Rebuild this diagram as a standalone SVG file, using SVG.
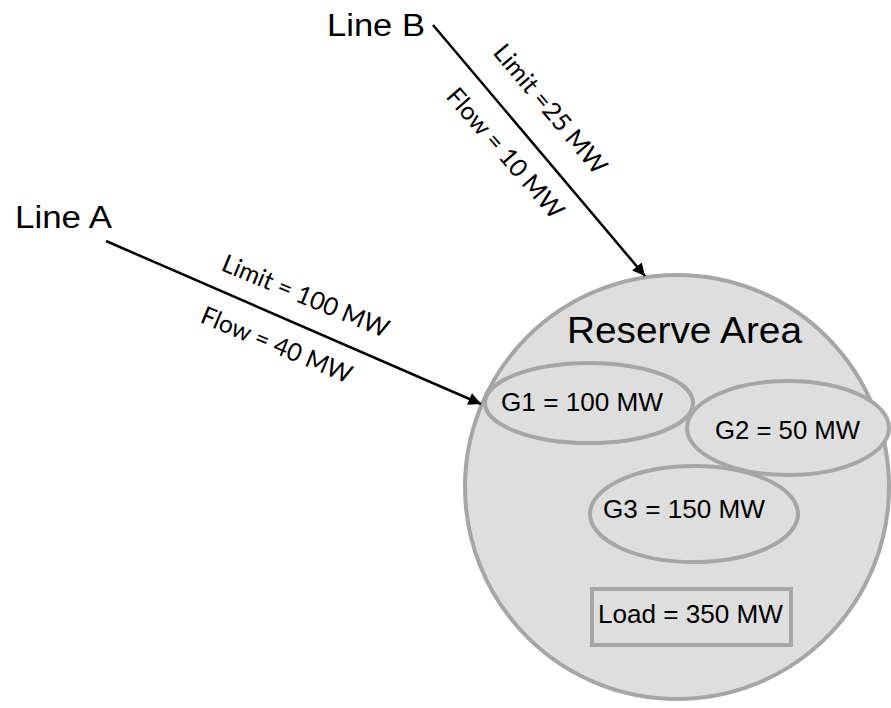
<svg xmlns="http://www.w3.org/2000/svg" width="891" height="708" viewBox="0 0 891 708">
<defs>
<style>
.area{fill:#dedede;stroke:#a6a6a6;stroke-width:4}
.gen{fill:#dedede;stroke:#a6a6a6;stroke-width:4}
.t{font-family:"Liberation Sans",Arial,sans-serif;fill:#000}
.lbl{font-family:Lato,"Open Sans",sans-serif;fill:#000;font-size:25px}
.conn{stroke:#000;stroke-width:2.5;fill:none}
</style>
<marker id="ah" viewBox="0 0 10 10" refX="10" refY="5" markerWidth="6" markerHeight="5" markerUnits="strokeWidth" orient="auto">
<path d="M0,0 L10,5 L0,10 z" fill="#000"/>
</marker>
</defs>
<g id="reserve-area">
<circle class="area" cx="677" cy="487" r="212"/>
<text class="t" x="567" y="343" font-size="37" textLength="235" lengthAdjust="spacingAndGlyphs">Reserve Area</text>
</g>
<g id="g1">
<ellipse class="gen" cx="589" cy="403" rx="104" ry="40"/>
<text class="t" x="501" y="411" font-size="25" textLength="162" lengthAdjust="spacingAndGlyphs">G1 = 100 MW</text>
</g>
<g id="g2">
<ellipse class="gen" cx="788" cy="428" rx="101" ry="47"/>
<text class="t" x="715" y="439" font-size="25" textLength="145" lengthAdjust="spacingAndGlyphs">G2 = 50 MW</text>
</g>
<g id="g3">
<ellipse class="gen" cx="694" cy="514" rx="104" ry="48"/>
<text class="t" x="603" y="518" font-size="25" textLength="162" lengthAdjust="spacingAndGlyphs">G3 = 150 MW</text>
</g>
<g id="load">
<rect class="gen" x="592" y="589" width="199" height="56"/>
<text class="t" x="598" y="623" font-size="25" textLength="185" lengthAdjust="spacingAndGlyphs">Load = 350 MW</text>
</g>
<g id="line-a">
<text class="t" x="15" y="228" font-size="31" textLength="97" lengthAdjust="spacingAndGlyphs">Line A</text>
</g>
<g id="line-b">
<text class="t" x="327" y="36" font-size="31" textLength="98" lengthAdjust="spacingAndGlyphs">Line B</text>
</g>
<g id="connectors">
<line class="conn" x1="106" y1="241" x2="481" y2="404" marker-end="url(#ah)"/>
<line class="conn" x1="433" y1="25" x2="645" y2="276" marker-end="url(#ah)"/>
<text class="lbl" transform="translate(220,270) rotate(22.5)" textLength="178" lengthAdjust="spacingAndGlyphs">Limit = 100 MW</text>
<text class="lbl" transform="translate(199,322) rotate(22.5)" textLength="161" lengthAdjust="spacingAndGlyphs">Flow = 40 MW</text>
<text class="lbl" transform="translate(492,53) rotate(50)" textLength="161" lengthAdjust="spacingAndGlyphs">Limit =25 MW</text>
<text class="lbl" transform="translate(445,97) rotate(49)" textLength="164" lengthAdjust="spacingAndGlyphs">Flow = 10 MW</text>
</g>
</svg>
